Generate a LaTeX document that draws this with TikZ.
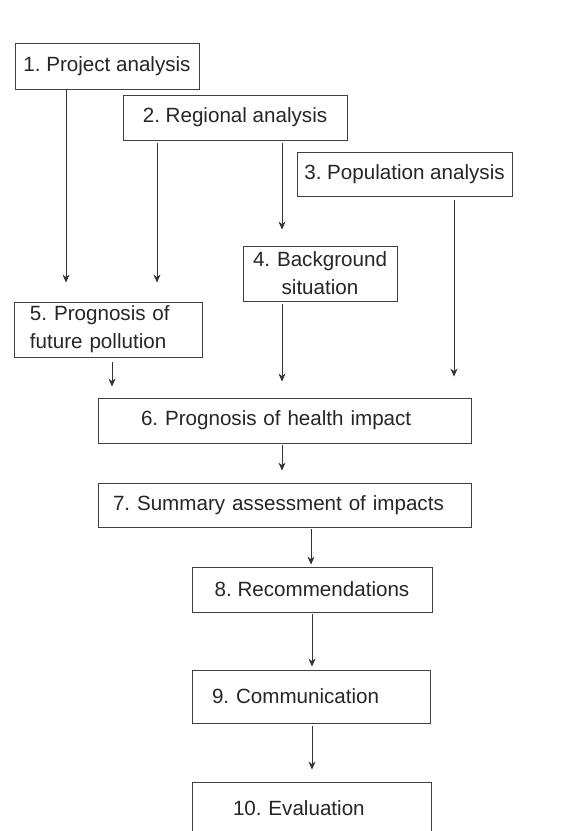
\documentclass[tikz,border=0pt]{standalone}
\usepackage{fontspec}
\setmainfont{Liberation Sans}
\usetikzlibrary{arrows.meta}
\begin{document}
\frenchspacing
\begin{tikzpicture}[x=1pt,y=-1pt,
  box/.style={draw=black!75, line width=0.9pt, inner ysep=0pt, text=black!85,
    font=\frenchspacing\fontsize{20.6}{28}\selectfont},
  arr/.style={draw=black!80, line width=0.8pt, -{Stealth[length=8pt,width=7pt]}}]
\useasboundingbox (0,0) rectangle (579,831);
\fill[white] (0,0) rectangle (579,831);
\node[box, minimum width=184pt, minimum height=46pt, inner xsep=0pt] (b1) at (107,66) {1. Project analysis};
\node[box, minimum width=224pt, minimum height=45pt, inner xsep=0pt] (b2) at (235,117.5) {2. Regional analysis};
\node[box, minimum width=215pt, minimum height=44pt, inner xsep=0pt] (b3) at (404.5,174) {3. Population analysis};
\node[box, minimum height=55pt, inner xsep=5pt, text width=144pt, align=center] (b4) at (320,273.5) {4. Background\\situation};
\node[box, minimum height=55pt, inner xsep=16pt, text width=156pt, align=left] (b5) at (108,329.5) {5. Prognosis of\\future pollution};
\node[box, minimum height=45pt, inner xsep=43pt, text width=287pt, align=left] (b6) at (284.5,420.5) {6. Prognosis of health impact};
\node[box, minimum height=44pt, inner xsep=15pt, text width=343pt, align=left] (b7) at (284.5,505) {7. Summary assessment of impacts};
\node[box, minimum width=240pt, minimum height=45pt, inner xsep=0pt] (b8) at (312,589.5) {8. Recommendations};
\node[box, minimum height=53pt, inner xsep=20pt, text width=198pt, align=left] (b9) at (311,696.5) {9. Communication};
\node[box, minimum height=53pt, inner xsep=41pt, text width=157pt, align=left] (b10) at (311.5,808.5) {10. Evaluation};
\draw[arr, shorten >=19pt] (b1.south -| 66,0) -- (b5.north -| 66,0);
\draw[arr, shorten <=3pt, shorten >=19pt] (b2.south -| 157,0) -- (b5.north -| 157,0);
\draw[arr, shorten <=3pt, shorten >=16pt] (b2.south -| 282,0) -- (b4.north -| 282,0);
\draw[arr, shorten <=4pt, shorten >=21pt] (b3.south -| 454,0) -- (b6.north -| 454,0);
\draw[arr, shorten <=3pt, shorten >=16pt] (b4.south -| 282,0) -- (b6.north -| 282,0);
\draw[arr, shorten <=5pt, shorten >=11pt] (b5.south -| 112,0) -- (b6.north -| 112,0);
\draw[arr, shorten <=2pt, shorten >=12pt] (b6.south -| 282,0) -- (b7.north -| 282,0);
\draw[arr, shorten <=2pt, shorten >=2pt] (b7.south -| 311,0) -- (b8.north -| 311,0);
\draw[arr, shorten <=2pt, shorten >=3pt] (b8.south -| 312,0) -- (b9.north -| 312,0);
\draw[arr, shorten <=3pt, shorten >=12pt] (b9.south -| 312,0) -- (b10.north -| 312,0);
\end{tikzpicture}
\end{document}
